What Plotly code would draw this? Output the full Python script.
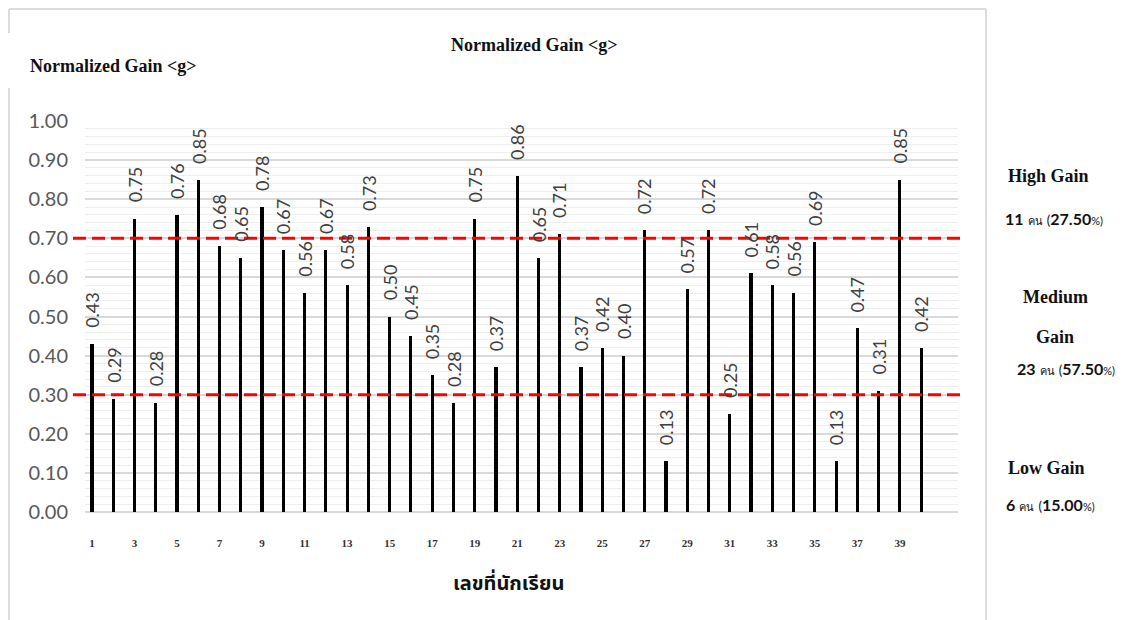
import plotly.graph_objects as go

# ---------------- data ----------------
students = list(range(1, 41))
gains = [0.43, 0.29, 0.75, 0.28, 0.76, 0.85, 0.68, 0.65, 0.78, 0.67,
         0.56, 0.67, 0.58, 0.73, 0.50, 0.45, 0.35, 0.28, 0.75, 0.37,
         0.86, 0.65, 0.71, 0.37, 0.42, 0.40, 0.72, 0.13, 0.57, 0.72,
         0.25, 0.61, 0.58, 0.56, 0.69, 0.13, 0.47, 0.31, 0.85, 0.42]
x_tick_vals = list(range(1, 40, 2))
x_tick_text = [str(v) for v in x_tick_vals]
y_tick_vals = [i / 10 for i in range(11)]
y_tick_text = [f"{v:.2f}" for v in y_tick_vals]
high_threshold = 0.70
low_threshold = 0.30
title_text = "Normalized Gain &lt;g&gt;"
x_title = "เลขที่นักเรียน"
group_notes = [
    ("High Gain", "11", "27.50"),
    ("Medium Gain", "23", "57.50"),
    ("Low Gain", "6", "15.00"),
]

# ---------------- layout geometry ----------------
W, H = 1123, 620
OFF = 8  # page body margin
PW, PH = 873, 391
L, T = 85 - OFF, 121 - OFF
R, B = W - L - PW, H - T - PH


def px(xp):
    return (xp - 85) / PW


def py(yp):
    return (512 - yp) / PH


fig = go.Figure()
fig.add_trace(go.Bar(
    x=students, y=gains, width=0.15,
    marker=dict(color="black", line=dict(width=0)),
    hoverinfo="x+y", showlegend=False,
))

annotations = []
thai_font = "Noto Sans Thai, Loma, Garuda, TH Sarabun New, Noto Sans, DejaVu Sans, sans-serif"
for s, g in zip(students, gains):
    annotations.append(dict(
        x=s, y=g, xref="x", yref="y", text=f"{g:.2f}", textangle=-90,
        showarrow=False, xanchor="center", yanchor="bottom", yshift=14,
        font=dict(family="Lato, Carlito, Open Sans, sans-serif", size=18, color="#404040"),
    ))


def note(xp, yp, text, font):
    annotations.append(dict(x=px(xp), y=py(yp), xref="paper", yref="paper",
                            text=text, showarrow=False,
                            xanchor="center", yanchor="middle", font=font))


serif = "Liberation Serif, DejaVu Serif, serif"
title_font = dict(family=serif, size=18, color="#111")
note(534, 45, f"<b>{title_text}</b>", title_font)
note(113, 66, f"<b>{title_text}</b>", title_font)
note(508, 584, f"<b>{x_title}</b>", dict(family=thai_font, size=20, color="#111"))


def count_text(n, pct):
    return (f"<b>{n}</b> <span style='font-size:11px'>คน</span> "
            f"<span style='font-size:13px'>(</span><b>{pct}</b>"
            f"<span style='font-size:11px'>%)</span>")


sans_b = dict(family="Lato, Open Sans, DejaVu Sans, sans-serif", size=16, color="#111")
label_font = dict(family=serif, size=18, color="#111")
med_words = group_notes[1][0].split(" ")
note(1048, 176, f"<b>{group_notes[0][0]}</b>", label_font)
note(1054, 218, count_text(group_notes[0][1], group_notes[0][2]), sans_b)
note(1055, 297, f"<b>{med_words[0]}</b>", label_font)
note(1055, 337, f"<b>{med_words[1]}</b>", label_font)
note(1066, 368, count_text(group_notes[1][1], group_notes[1][2]), sans_b)
note(1046, 468, f"<b>{group_notes[2][0]}</b>", label_font)
note(1050, 504, count_text(group_notes[2][1], group_notes[2][2]), sans_b)

shapes = []
for thr in (high_threshold, low_threshold):
    shapes.append(dict(type="line", xref="paper", yref="y",
                       x0=px(73), x1=px(962), y0=thr, y1=thr,
                       line=dict(color="#ff0000", width=3, dash="13px,6px")))
frame = dict(color="#dcdcdc", width=2)
shapes += [
    dict(type="line", xref="paper", yref="paper", x0=px(9), x1=px(986), y0=py(9), y1=py(9), line=frame),
    dict(type="line", xref="paper", yref="paper", x0=px(986), x1=px(986), y0=py(9), y1=py(625), line=frame),
    dict(type="line", xref="paper", yref="paper", x0=px(9), x1=px(9), y0=py(9), y1=py(33), line=frame),
    dict(type="line", xref="paper", yref="paper", x0=px(9), x1=px(9), y0=py(88), y1=py(625), line=frame),
]

fig.update_layout(
    width=W, height=H,
    margin=dict(l=L, r=R, t=T, b=B),
    paper_bgcolor="white", plot_bgcolor="white",
    bargap=0,
    annotations=annotations, shapes=shapes,
    showlegend=False,
)
fig.update_xaxes(
    range=[1 - 7 / 21.26, 1 + 866 / 21.26],
    tickvals=x_tick_vals, ticktext=[f"<b>{t}</b>" for t in x_tick_text],
    tickfont=dict(family=serif, size=11, color="#333"),
    ticklabelstandoff=23, ticks="", showgrid=False, zeroline=False,
    showline=False,
)
fig.update_yaxes(
    range=[0, 1.0],
    tickvals=y_tick_vals, ticktext=y_tick_text,
    tickfont=dict(family="Lato, Carlito, Open Sans, sans-serif", size=20, color="#595959"),
    ticklabelstandoff=16, ticks="",
    showgrid=True, gridcolor="#d9d9d9", gridwidth=1.5,
    minor=dict(dtick=0.02, showgrid=True, gridcolor="#eeeeee", gridwidth=1),
    zeroline=True, zerolinecolor="#d9d9d9", zerolinewidth=1.5,
    showline=False,
)

fig.write_html("out.html")
